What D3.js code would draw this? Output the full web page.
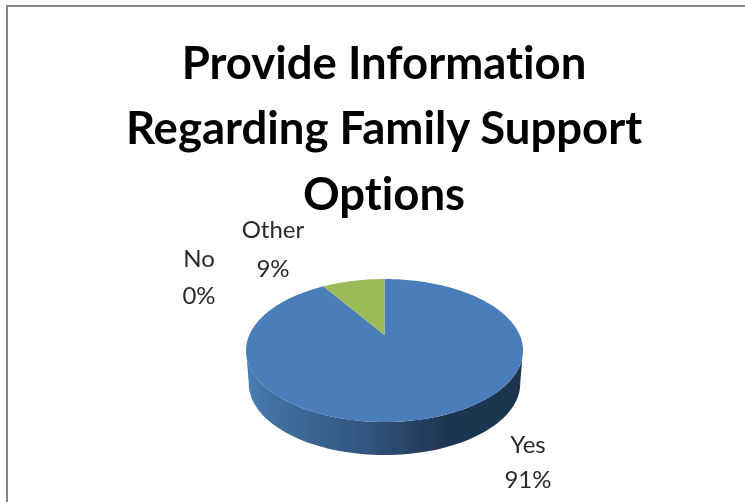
<!DOCTYPE html>
<html>
<head>
<meta charset="utf-8">
<script src="https://cdn.jsdelivr.net/npm/d3@7"></script>
<style>
html, body { margin: 0; padding: 0; background: #fff; }
svg { display: block; }
text { font-family: Lato, "Open Sans", sans-serif; font-variant-ligatures: none; }
</style>
</head>
<body>
<div id="chart"></div>
<script>
const categories = ["Yes", "No", "Other"];
const values = [91, 0, 9];
const colores = ["#4b7dbb", "#c0504d", "#9bbb59"];
const tituloLineas = ["Provide Information", "Regarding Family Support", "Options"];

const ancho = 745, alto = 502;

// the pie is tilted: the centre of the circle does not land on the centre of the ellipse
const centroX = 384.5, apiceY = 335;
const radioX = 138.5, arriba = 56, abajo = 87, grosor = 33;
const C = -(abajo - arriba) / (abajo + arriba);
const A = arriba * (1 - C);
const D = radioX * Math.sqrt(1 - C * C);
const proyectar = (angulo, r = 1) => {
    const u = Math.sin(angulo) * r, v = -Math.cos(angulo) * r;
    const w = 1 + C * v;
    return [centroX + D * u / w, apiceY + A * v / w];
};

const $svg = d3.select("#chart").append("svg")
    .attr("width", ancho)
    .attr("height", alto);

const defs = $svg.append("defs");
defs.append("filter").attr("id", "suave")
    .attr("x", "-5%").attr("y", "-5%").attr("width", "110%").attr("height", "110%")
    .append("feGaussianBlur").attr("stdDeviation", 0.6);

const degradado = defs.append("linearGradient")
    .attr("id", "lado")
    .attr("gradientUnits", "userSpaceOnUse")
    .attr("x1", centroX - radioX).attr("x2", centroX + radioX)
    .attr("y1", 0).attr("y2", 0);
[[0, "#4a7cb6"], [0.1, "#42709f"], [0.45, "#30547d"], [0.72, "#1f3552"], [1, "#1e3350"]].forEach(p => {
    degradado.append("stop").attr("offset", p[0]).attr("stop-color", p[1]);
});

// marco gris, solo arriba y a la izquierda
$svg.append("path")
    .attr("d", `M7,${alto}V6H${ancho}`)
    .attr("fill", "none")
    .attr("stroke", "#868686")
    .attr("stroke-width", 2);

const $grafico = $svg.append("g").attr("filter", "url(#suave)");

const linea = d3.line();
const pasos = d3.range(0, 181);

// lateral del pastel, la base queda un poco mas estrecha
const borde = pasos.map(i => proyectar(Math.PI * 2 * i / 180));
const frente = borde
    .filter(p => p[1] >= apiceY + 13)
    .sort((a, b) => a[0] - b[0]);
const lado = frente.concat(frente.slice().reverse().map(p => [centroX + (p[0] - centroX) * 0.98, p[1] + grosor]));
$grafico.append("path")
    .attr("d", linea(lado) + "Z")
    .attr("fill", "url(#lado)");

// porciones de arriba
const porciones = d3.pie().sort(null)(values);
$grafico.selectAll("path.porcion")
    .data(porciones)
    .join("path")
    .attr("class", "porcion")
    .attr("fill", (d, i) => colores[i])
    .attr("d", d => {
        const n = Math.max(2, Math.ceil((d.endAngle - d.startAngle) * 40));
        const puntos = d3.range(n + 1).map(i => proyectar(d.startAngle + (d.endAngle - d.startAngle) * i / n));
        return linea([[centroX, apiceY], ...puntos]) + "Z";
    });

const $textos = $svg.append("g").attr("filter", "url(#suave)");

// titulo
const baseTitulo = [79, 144, 210];
$textos.selectAll("text.titulo")
    .data(tituloLineas)
    .join("text")
    .attr("class", "titulo")
    .attr("x", 384)
    .attr("y", (d, i) => baseTitulo[i])
    .attr("text-anchor", "middle")
    .attr("font-size", 45.5)
    .attr("font-weight", "bold")
    .attr("fill", "#000")
    .text(d => d);

// etiquetas
const posEtiqueta = [[528, 453, 488], [199, 267, 304], [273, 238, 277]];
const $etiquetas = $textos.selectAll("g.etiqueta")
    .data(categories)
    .join("g")
    .attr("class", "etiqueta")
    .attr("fill", "#2b2b2b")
    .attr("font-size", 24)
    .attr("text-anchor", "middle");
$etiquetas.append("text")
    .attr("x", (d, i) => posEtiqueta[i][0])
    .attr("y", (d, i) => posEtiqueta[i][1])
    .text(d => d);
$etiquetas.append("text")
    .attr("x", (d, i) => posEtiqueta[i][0])
    .attr("y", (d, i) => posEtiqueta[i][2])
    .text((d, i) => values[i] + "%");
</script>
</body>
</html>
